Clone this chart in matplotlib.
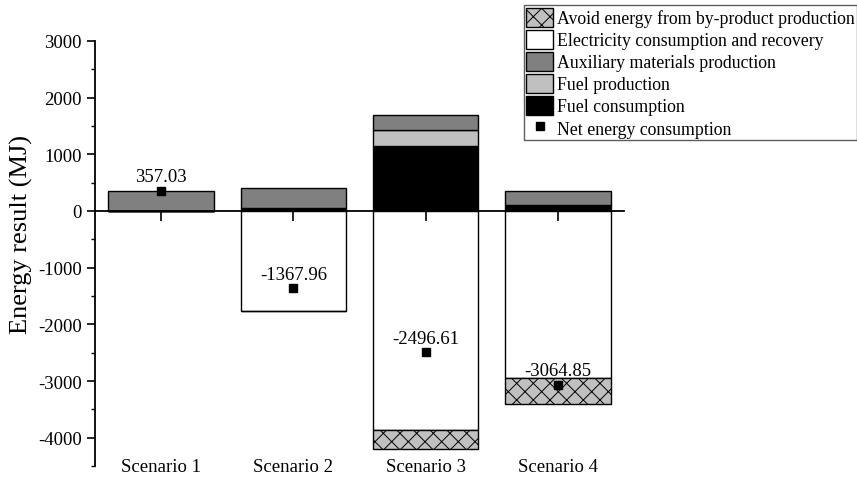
import matplotlib.pyplot as plt
import numpy as np
from matplotlib.ticker import MultipleLocator
from matplotlib.patches import Patch
from matplotlib.lines import Line2D

plt.rcParams['font.family'] = ['Liberation Serif', 'DejaVu Serif']
plt.rcParams['axes.unicode_minus'] = False
plt.rcParams['hatch.linewidth'] = 0.7
plt.rcParams['hatch.color'] = '#333333'

# --- data (MJ) ---
scenarios = ["Scenario 1", "Scenario 2", "Scenario 3", "Scenario 4"]
fuel_consumption = [0, 45, 1153, 112]
fuel_production = [0, 0, 276, 0]
auxiliary = [357.03, 360, 265, 235]
electricity = [0, -1772.96, -3864, -2946]
avoid_energy = [0, 0, -326.61, -465.85]
net_energy = [357.03, -1367.96, -2496.61, -3064.85]

x = np.arange(1, len(scenarios) + 1)
w = 0.8

fig = plt.figure(figsize=(8.57, 4.81), dpi=100)
ax = fig.add_axes([0.111, 0.029, 0.617, 0.884])

fc = np.array(fuel_consumption)
fp = np.array(fuel_production)
au = np.array(auxiliary)
el = np.array(electricity)
av = np.array(avoid_energy)

kw = dict(width=w, edgecolor='black', linewidth=1.0)
ax.bar(x, fc, color='black', **kw)
ax.bar(x, fp, bottom=fc, color='#c0c0c0', **kw)
ax.bar(x, au, bottom=fc + fp, color='#808080', **kw)
ax.bar(x, el, color='white', **kw)
ax.bar(x, av, bottom=el, color='#c0c0c0', hatch='xx', **kw)

ax.plot(x, net_energy, 's', color='black', markersize=6, zorder=5)
for xi, v in zip(x, net_energy):
    ax.annotate(f"{v:.2f}", (xi, v), xytext=(0, 4), textcoords='offset points',
                ha='center', va='bottom', fontsize=13.5)

ax.set_xlim(0.5, 4.5)
ax.set_ylim(-4500, 3000)
ax.yaxis.set_minor_locator(MultipleLocator(500))
ax.set_yticks(np.arange(-4000, 3001, 1000))
ax.tick_params(axis='y', which='major', direction='out', length=6, width=1.2, labelsize=13.5)
ax.tick_params(axis='y', which='minor', direction='out', length=3, width=1.0)
ax.set_ylabel("Energy result (MJ)", fontsize=19)
ax.yaxis.set_label_coords(-0.117, 0.546)

ax.spines['top'].set_visible(False)
ax.spines['right'].set_visible(False)
ax.spines['left'].set_linewidth(1.3)
ax.spines['bottom'].set_position(('data', 0))
ax.spines['bottom'].set_linewidth(1.3)
ax.spines['bottom'].set_zorder(6)
ax.set_xticks(x)
ax.tick_params(axis='x', direction='out', length=7, width=1.2, labelbottom=False)
trans = ax.get_xaxis_transform()
for xi, name in zip(x, scenarios):
    ax.text(xi, 0.0, name, transform=trans, ha='center', va='center', fontsize=13.5)

handles = [
    Patch(facecolor='#c0c0c0', edgecolor='black', hatch='xx', label='Avoid energy from by-product production'),
    Patch(facecolor='white', edgecolor='black', label='Electricity consumption and recovery'),
    Patch(facecolor='#808080', edgecolor='black', label='Auxiliary materials production'),
    Patch(facecolor='#c0c0c0', edgecolor='black', label='Fuel production'),
    Patch(facecolor='black', edgecolor='black', label='Fuel consumption'),
    Line2D([], [], marker='s', color='black', linestyle='none', markersize=6, label='Net energy consumption'),
]
leg = fig.legend(handles=handles, loc='upper right', bbox_to_anchor=(1.0, 0.987),
                 fontsize=12.8, frameon=True, fancybox=False, borderpad=0.15,
                 labelspacing=0.15, handlelength=1.5, handleheight=1.25, handletextpad=0.2,
                 borderaxespad=0)
leg.get_frame().set_edgecolor('#333333')
leg.get_frame().set_linewidth(1.0)

fig.savefig("out.png", dpi=100)
